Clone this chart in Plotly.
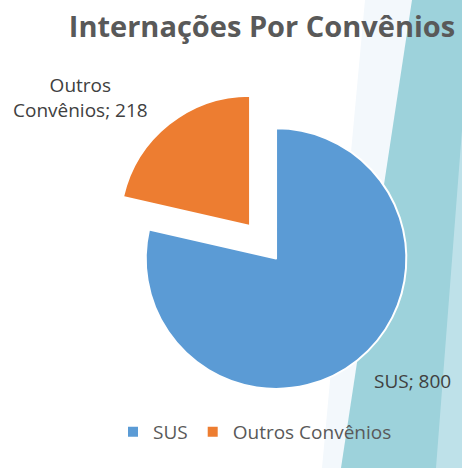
import plotly.graph_objects as go

labels = ["SUS", "Outros Convênios"]
values = [800, 218]
colors = ["#5B9BD5", "#ED7D31"]
pulls = [0, 0.32]

title_text = "Internações Por Convênios"
gray = "#595959"
label_gray = "#404040"

fig = go.Figure()

fig.add_trace(go.Pie(
    labels=labels,
    values=values,
    sort=False,
    direction="clockwise",
    rotation=0,
    pull=pulls,
    marker=dict(colors=colors, line=dict(color="white", width=2)),
    textinfo="none",
    hoverinfo="label+value",
    domain=dict(x=[0.225, 0.97], y=[0.08, 0.815]),
))

# data labels, text taken from the data
label_text = [f"{lab}; {val}" for lab, val in zip(labels, values)]
label_text[1] = label_text[1].replace("Outros ", "Outros<br>")
fig.add_annotation(x=412 / 462, y=1 - 381 / 468, xref="paper", yref="paper",
                   xanchor="center", yanchor="middle",
                   text=label_text[0], showarrow=False,
                   font=dict(size=19, color=label_gray))
fig.add_annotation(x=80 / 462, y=1 - 97 / 468, xref="paper", yref="paper",
                   xanchor="center", yanchor="middle",
                   text=label_text[1], showarrow=False,
                   font=dict(size=19, color=label_gray))

# decorative diagonal bands in the background
def band(x_top, x_bot, color):
    fig.add_shape(type="path", xref="paper", yref="paper", layer="below",
                  path=f"M {x_top/462} 1 L 1.1 1 L 1.1 0 L {x_bot/462} 0 Z",
                  fillcolor=color, line=dict(width=0))

band(365, 322, "#F3F8FC")
band(412, 341, "#9DD2DB")
band(472, 436, "#BEE1E9")

fig.update_layout(
    width=462, height=468,
    margin=dict(l=0, r=0, t=0, b=0),
    paper_bgcolor="white",
    font=dict(family="Open Sans", color=gray),
    title=dict(text=f"<b>{title_text}</b>", x=262 / 462, xanchor="center",
               y=1 - 27 / 468, yanchor="middle",
               font=dict(size=29, color=gray, family="Open Sans")),
    showlegend=True,
    legend=dict(orientation="h", x=255 / 462, xanchor="center", y=1 - 451 / 468, yanchor="bottom",
                font=dict(size=19, color=gray), itemwidth=30,
                bgcolor="rgba(0,0,0,0)"),
)

fig.write_html("out.html", config={"displayModeBar": False},
               post_script="document.body.style.margin='0';document.body.style.overflow='hidden';")
